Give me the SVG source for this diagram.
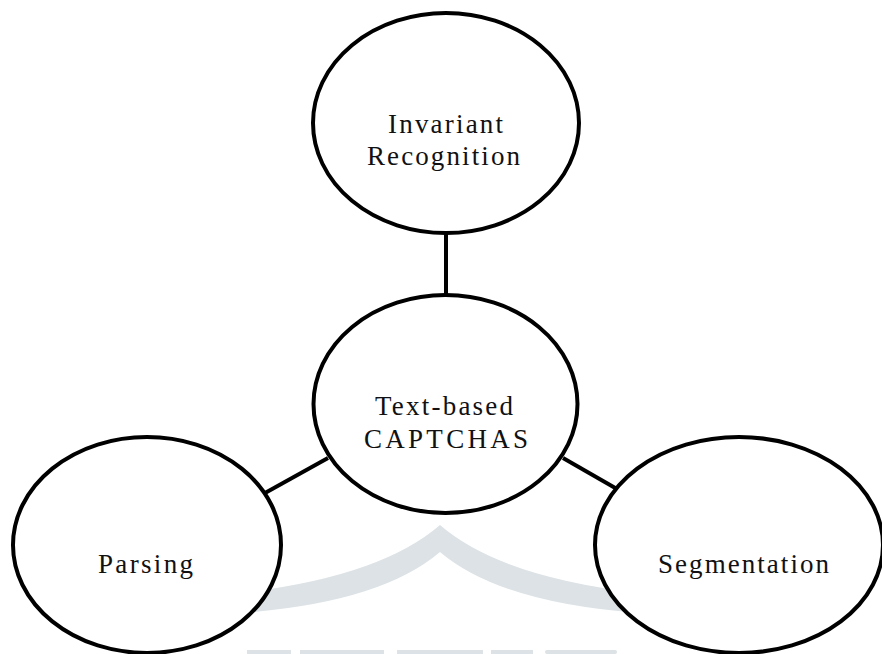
<svg xmlns="http://www.w3.org/2000/svg" width="882" height="654" viewBox="0 0 882 654">
  <style>
    .node ellipse { fill: #ffffff; stroke: #000000; stroke-width: 4; }
    .lbl { font-family: "Liberation Serif", "Times New Roman", serif; font-size: 27px; fill: #111111; }
    .conn line { stroke: #000000; stroke-width: 4; }
    .wm { fill: #dce2e5; }
  </style>
  <rect x="0" y="0" width="882" height="654" fill="#ffffff"/>
  <g id="watermark">
    <path class="wm" d="M 240,593 Q 380,577 440,525 Q 500,577 640,593 L 640,613 Q 500,603 440,552 Q 380,603 240,613 Z"/>
    <rect class="wm" x="247" y="650" width="44" height="4"/>
    <rect class="wm" x="300" y="650" width="84" height="4"/>
    <rect class="wm" x="397" y="650" width="86" height="4"/>
    <rect class="wm" x="491" y="650" width="42" height="4"/>
    <rect class="wm" x="545" y="650" width="72" height="4" rx="2"/>
  </g>
  <g id="connectors" class="conn">
    <line x1="446" y1="232" x2="446" y2="296"/>
    <line x1="265" y1="493" x2="328" y2="458"/>
    <line x1="563" y1="458" x2="617" y2="489"/>
  </g>
  <g id="node-invariant" class="node">
    <ellipse cx="446" cy="123" rx="133" ry="110"/>
    <text class="lbl" x="388" y="133" textLength="115" lengthAdjust="spacing">Invariant</text>
    <text class="lbl" x="367" y="165" textLength="153" lengthAdjust="spacing">Recognition</text>
  </g>
  <g id="node-text-captchas" class="node">
    <ellipse cx="445.5" cy="404" rx="132" ry="109"/>
    <text class="lbl" x="375" y="415" textLength="138" lengthAdjust="spacing">Text-based</text>
    <text class="lbl" x="364" y="448" textLength="164" lengthAdjust="spacing">CAPTCHAS</text>
  </g>
  <g id="node-parsing" class="node">
    <ellipse cx="147" cy="545" rx="134" ry="108"/>
    <text class="lbl" x="98" y="573" textLength="95" lengthAdjust="spacing">Parsing</text>
  </g>
  <g id="node-segmentation" class="node">
    <ellipse cx="739" cy="545" rx="144" ry="108"/>
    <text class="lbl" x="658" y="573" textLength="171" lengthAdjust="spacing">Segmentation</text>
  </g>
</svg>
